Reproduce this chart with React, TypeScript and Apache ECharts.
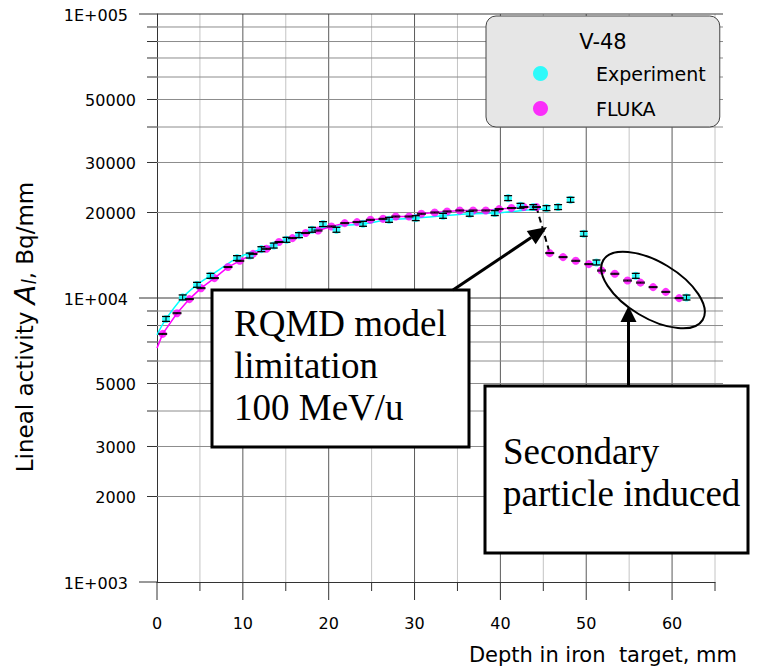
import React, { useEffect, useRef } from "react";
import * as echarts from "echarts";

// ---------- data ----------
const expDepth = [1.05, 2.99, 4.66, 6.22, 9.32, 10.8, 12.16, 13.6, 15.08, 16.54, 18.06, 19.34, 20.9, 24.0, 27.03, 30.14, 33.32, 36.43, 39.35, 40.9, 42.34, 43.83, 45.37, 46.72, 48.17, 49.71, 51.19, 55.77, 61.68];
const expActivity = [8440, 10050, 11130, 11970, 13820, 14110, 14860, 15300, 16030, 16650, 17390, 18210, 17390, 18250, 18850, 19110, 19470, 19800, 19910, 22480, 21120, 20900, 20730, 20900, 22170, 16830, 13340, 11970, 10040];
const expRelError = 0.02;

const flukaDepth = [0.66, 2.33, 3.77, 5.13, 6.69, 8.27, 9.64, 11.18, 12.75, 14.21, 15.78, 17.32, 18.76, 20.32, 21.87, 23.3, 24.86, 26.33, 27.81, 29.36, 30.8, 32.35, 33.79, 35.27, 36.82, 38.3, 39.85, 41.29, 42.72, 44.2, 45.75, 47.3, 48.78, 50.3, 51.78, 53.33, 54.81, 56.32, 57.79, 59.27, 60.82];
const flukaActivity = [7475, 8840, 9910, 10830, 11750, 12850, 13520, 14300, 14900, 15740, 16250, 16930, 17280, 17860, 18350, 18500, 18850, 19000, 19360, 19360, 19800, 20000, 20170, 20330, 20330, 20330, 20560, 20730, 20900, 20900, 14390, 13930, 13520, 13160, 12490, 12170, 11520, 11330, 10920, 10510, 9990];
const flukaRelError = 0.004;

// smooth trend curves
const expCurveDepth = [0, 1.05, 2.99, 4.66, 6.22, 9.32, 12.16, 15.08, 18.06, 21, 24, 27.03, 30.14, 33.32, 36.43, 39.35, 42.3, 45.4];
const expCurveActivity = [7420, 8440, 10050, 11130, 11970, 13820, 14860, 16030, 17390, 17900, 18250, 18850, 19110, 19470, 19800, 19910, 20300, 20600];
const flukaCurveStart = [0, 6660];
const flukaCurveEndIndex = 29; // last FLUKA point before the drop

const xTicks = [0, 5, 10, 15, 20, 25, 30, 35, 40, 45, 50, 55, 60, 65];
const xLabelValues = [0, 10, 20, 30, 40, 50, 60];
const xLabelTexts = ["0", "10", "20", "30", "40", "50", "60"];

const yTicks = [1000, 2000, 3000, 4000, 5000, 6000, 7000, 8000, 9000, 10000, 20000, 30000, 40000, 50000, 60000, 70000, 80000, 90000, 100000];
const yMajorTicks = [1000, 10000, 100000];
const yLabelValues = [1000, 2000, 3000, 5000, 10000, 20000, 30000, 50000, 100000];
const yLabelTexts = ["1E+003", "2000", "3000", "5000", "1E+004", "20000", "30000", "50000", "1E+005"];

const X_MIN = 0, X_MAX = 65, Y_MIN = 1000, Y_MAX = 100000;

const SANS = "'DejaVu Sans', 'Liberation Sans', Arial, sans-serif";
const SERIF = "'Liberation Serif', 'Times New Roman', serif";

function staticGraphics(): any[] {
  const arrowHead = (tip: number[], from: number[], len: number, half: number) => {
    const dx = tip[0] - from[0], dy = tip[1] - from[1];
    const l = Math.sqrt(dx * dx + dy * dy);
    const ux = dx / l, uy = dy / l;
    const bx = tip[0] - ux * len, by = tip[1] - uy * len;
    return {
      base: [bx, by],
      pts: [tip, [bx - uy * half, by + ux * half], [bx + uy * half, by - ux * half]],
    };
  };
  const a1From = [453, 290], a1Tip = [547, 227];
  const h1 = arrowHead(a1Tip, a1From, 19, 8);
  const a2From = [628.5, 386], a2Tip = [628.5, 306];
  const h2 = arrowHead(a2Tip, a2From, 16, 8);

  const boxText = (text: string, x: number, y: number, size: number) => ({
    type: "text", z: 101, x, y,
    style: { text, fontSize: size, fontFamily: SERIF, fill: "#000", align: "left", verticalAlign: "middle" },
  });

  return [
    {
      type: "text", z: 100, x: 603, y: 42,
      style: { text: "V-48", fontSize: 21, fontFamily: SANS, fill: "#000", align: "center", verticalAlign: "middle" },
    },
    {
      type: "text", z: 100, x: 25, y: 327, rotation: Math.PI / 2,
      style: {
        text: "Lineal activity {a|A}{l|l}, Bq/mm",
        fontSize: 23, fontFamily: SANS, fill: "#000", align: "center", verticalAlign: "middle",
        rich: {
          a: { fontSize: 29, fontStyle: "italic", fontFamily: SANS, fill: "#000" },
          l: { fontSize: 19, fontStyle: "italic", fontFamily: SANS, fill: "#000", padding: [7, 0, 0, 0] },
        },
      },
    },
    {
      type: "text", z: 100, x: 737, y: 655,
      style: { text: "Depth in iron  target, mm", fontSize: 21, fontFamily: SANS, fill: "#000", align: "right", verticalAlign: "middle" },
    },
    // annotation box 1
    { type: "rect", z: 100, shape: { x: 212, y: 290, width: 257, height: 157 }, style: { fill: "#fff", stroke: "#000", lineWidth: 3 } },
    boxText("RQMD model", 234, 323, 37),
    boxText("limitation", 234, 365, 37),
    boxText("100 MeV/u", 234, 407, 37),
    // annotation box 2
    { type: "rect", z: 100, shape: { x: 485, y: 386, width: 263, height: 167 }, style: { fill: "#fff", stroke: "#000", lineWidth: 3 } },
    boxText("Secondary", 503, 451, 37),
    boxText("particle induced", 503, 493, 37),
    // arrows
    { type: "line", z: 100, shape: { x1: a1From[0], y1: a1From[1], x2: h1.base[0], y2: h1.base[1] }, style: { stroke: "#000", lineWidth: 3 } },
    { type: "polygon", z: 100, shape: { points: h1.pts }, style: { fill: "#000" } },
    { type: "line", z: 100, shape: { x1: a2From[0], y1: a2From[1], x2: h2.base[0], y2: h2.base[1] }, style: { stroke: "#000", lineWidth: 3 } },
    { type: "polygon", z: 100, shape: { points: h2.pts }, style: { fill: "#000" } },
    // ellipse
    {
      type: "ellipse", z: 100, x: 653, y: 290, rotation: (-31 * Math.PI) / 180,
      shape: { cx: 0, cy: 0, rx: 58, ry: 28 },
      style: { fill: "none", stroke: "#000", lineWidth: 2 },
    },
  ];
}

function buildOption(): any {
  const expPts = expDepth.map((d, i) => [d, expActivity[i]]);
  const flukaPts = flukaDepth.map((d, i) => [d, flukaActivity[i]]);
  const expCurve = expCurveDepth.map((d, i) => [d, expCurveActivity[i]]);
  const flukaCurve = [flukaCurveStart, ...flukaPts.slice(0, flukaCurveEndIndex + 1)];
  const dropSegment = [flukaPts[flukaCurveEndIndex], flukaPts[flukaCurveEndIndex + 1]];

  return {
    animation: false,
    backgroundColor: "#ffffff",
    grid: { left: 157, top: 14, width: 558, height: 568, containLabel: false },
    xAxis: {
      type: "value",
      min: X_MIN,
      max: X_MAX,
      axisLine: { show: true, lineStyle: { color: "#333", width: 1 } },
      axisTick: { show: false },
      axisLabel: { show: false },
      splitLine: { show: false },
    },
    yAxis: {
      type: "log",
      logBase: 10,
      min: Y_MIN,
      max: Y_MAX,
      axisLine: { show: true, lineStyle: { color: "#333", width: 1 } },
      axisTick: { show: false },
      axisLabel: { show: false },
      splitLine: { show: false },
    },
    legend: {
      data: [
        { name: "Experiment", icon: "circle" },
        { name: "FLUKA", icon: "circle" },
      ],
      orient: "vertical",
      left: 486,
      top: 16,
      itemWidth: 15,
      itemHeight: 15,
      itemGap: 16,
      padding: [48, 14, 9, 47],
      backgroundColor: "#e6e6e6",
      borderColor: "#444",
      borderWidth: 1,
      borderRadius: 10,
      selectedMode: false,
      textStyle: { fontSize: 19, fontFamily: SANS, color: "#000", padding: [0, 0, 0, 43] },
    },
    graphic: staticGraphics(),
    series: [
      {
        type: "custom",
        name: "xgrid",
        silent: true,
        clip: false,
        z: 1,
        data: xTicks.map((v) => [v, Y_MIN]),
        renderItem: (params: any, api: any) => {
          const v = api.value(0);
          const bot = api.coord([v, Y_MIN]);
          const top = api.coord([v, Y_MAX]);
          const major = v % 10 === 0;
          const children: any[] = [];
          if (v !== X_MIN) {
            children.push({
              type: "line",
              shape: { x1: bot[0], y1: bot[1], x2: top[0], y2: top[1] },
              style: { stroke: major ? "#5a5a5a" : "#c4c4c4", lineWidth: 1 },
            });
          }
          children.push({
            type: "line",
            shape: { x1: bot[0], y1: bot[1], x2: bot[0], y2: bot[1] + (major ? 18 : 9) },
            style: { stroke: "#333", lineWidth: 1 },
          });
          return { type: "group", children };
        },
      },
      {
        type: "custom",
        name: "ygrid",
        silent: true,
        clip: false,
        z: 1,
        data: yTicks.map((v) => [X_MIN, v]),
        renderItem: (params: any, api: any) => {
          const v = api.value(1);
          const l = api.coord([X_MIN, v]);
          const r = api.coord([X_MAX, v]);
          const major = yMajorTicks.indexOf(v) >= 0;
          const tickLen = major ? 18 : 10;
          const children: any[] = [];
          if (v !== Y_MIN) {
            children.push({
              type: "line",
              shape: { x1: l[0], y1: l[1], x2: r[0] + 8, y2: r[1] },
              style: { stroke: major ? "#3a3a3a" : "#8c8c8c", lineWidth: 1 },
            });
          }
          children.push({
            type: "line",
            shape: { x1: l[0] - tickLen, y1: l[1], x2: l[0], y2: l[1] },
            style: { stroke: "#333", lineWidth: 1 },
          });
          return { type: "group", children };
        },
      },
      {
        type: "line",
        name: "Experiment trend",
        data: expCurve,
        showSymbol: false,
        symbol: "none",
        smooth: 0.3,
        z: 3,
        silent: true,
        lineStyle: { color: "#00ffff", width: 1.5 },
      },
      {
        type: "line",
        name: "FLUKA trend",
        data: flukaCurve,
        showSymbol: false,
        symbol: "none",
        z: 3,
        silent: true,
        lineStyle: { color: "#ff00ff", width: 1.5 },
      },
      {
        type: "line",
        name: "drop",
        data: dropSegment,
        showSymbol: false,
        symbol: "none",
        z: 3,
        silent: true,
        lineStyle: { color: "#000", width: 2, type: [6, 4] },
      },
      {
        type: "scatter",
        name: "FLUKA",
        data: flukaPts,
        symbol: "circle",
        symbolSize: 8,
        z: 4,
        itemStyle: { color: "#ff00ff" },
      },
      {
        type: "scatter",
        name: "Experiment",
        data: expPts,
        symbol: "circle",
        symbolSize: 8,
        z: 5,
        itemStyle: { color: "#00ffff" },
      },
      {
        type: "custom",
        name: "FLUKA error",
        silent: true,
        z: 6,
        data: flukaPts,
        renderItem: (params: any, api: any) => {
          const x = api.value(0), v = api.value(1);
          const c = api.coord([x, v]);
          const lo = api.coord([x, v * (1 - flukaRelError)]);
          const hi = api.coord([x, v * (1 + flukaRelError)]);
          return {
            type: "group",
            children: [
              { type: "line", shape: { x1: c[0], y1: lo[1], x2: c[0], y2: hi[1] }, style: { stroke: "#000", lineWidth: 1 } },
              { type: "line", shape: { x1: c[0] - 4.5, y1: lo[1], x2: c[0] + 4.5, y2: lo[1] }, style: { stroke: "#000", lineWidth: 1 } },
              { type: "line", shape: { x1: c[0] - 4.5, y1: hi[1], x2: c[0] + 4.5, y2: hi[1] }, style: { stroke: "#000", lineWidth: 1 } },
            ],
          };
        },
      },
      {
        type: "custom",
        name: "Experiment error",
        silent: true,
        z: 6,
        data: expPts,
        renderItem: (params: any, api: any) => {
          const x = api.value(0), v = api.value(1);
          const c = api.coord([x, v]);
          const lo = api.coord([x, v * (1 - expRelError)]);
          const hi = api.coord([x, v * (1 + expRelError)]);
          return {
            type: "group",
            children: [
              { type: "line", shape: { x1: c[0], y1: lo[1], x2: c[0], y2: hi[1] }, style: { stroke: "#000", lineWidth: 1 } },
              { type: "line", shape: { x1: c[0] - 4, y1: lo[1], x2: c[0] + 4, y2: lo[1] }, style: { stroke: "#000", lineWidth: 1.3 } },
              { type: "line", shape: { x1: c[0] - 4, y1: hi[1], x2: c[0] + 4, y2: hi[1] }, style: { stroke: "#000", lineWidth: 1.3 } },
            ],
          };
        },
      },
    ],
  };
}

// tick labels placed through the chart's own scales
function tickLabelGraphics(chart: any): any[] {
  const out: any[] = [];
  xLabelValues.forEach((v, i) => {
    const p = chart.convertToPixel({ gridIndex: 0 }, [v, Y_MIN]);
    out.push({
      type: "text", z: 50, x: p[0], y: p[1] + 41,
      style: { text: xLabelTexts[i], fontSize: 16, fontFamily: SANS, fill: "#000", align: "center", verticalAlign: "middle" },
    });
  });
  yLabelValues.forEach((v, i) => {
    const p = chart.convertToPixel({ gridIndex: 0 }, [X_MIN, v]);
    const major = yMajorTicks.indexOf(v) >= 0;
    const tickLen = major ? 18 : 10;
    out.push({
      type: "text", z: 50, x: p[0] - tickLen - 11, y: p[1] + 1,
      style: { text: yLabelTexts[i], fontSize: 16, fontFamily: SANS, fill: "#000", align: "right", verticalAlign: "middle" },
    });
  });
  return out;
}

export default function App() {
  const ref = useRef<HTMLDivElement>(null);
  useEffect(() => {
    if (!ref.current) return;
    const chart = echarts.init(ref.current, undefined, { renderer: "svg" });
    chart.setOption(buildOption());
    chart.setOption({ graphic: [...staticGraphics(), ...tickLabelGraphics(chart)] });
    return () => chart.dispose();
  }, []);
  return (
    <div
      ref={ref}
      style={{ position: "absolute", left: 0, top: 0, width: 762, height: 671, background: "#fff" }}
    />
  );
}
